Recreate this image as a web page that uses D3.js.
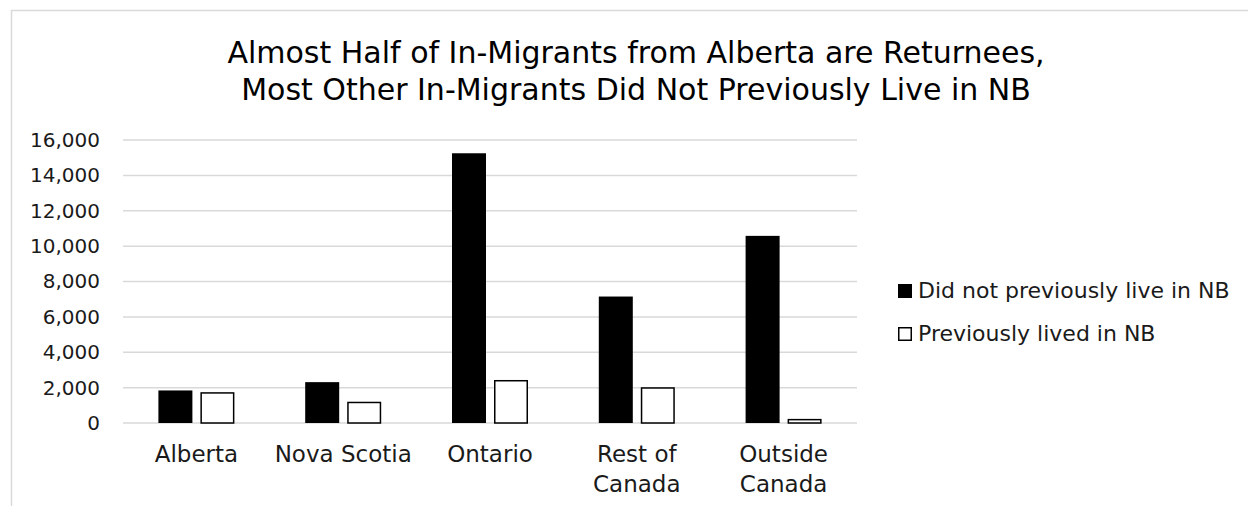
<!DOCTYPE html>
<html>
<head>
<meta charset="utf-8">
<script src="https://cdnjs.cloudflare.com/ajax/libs/d3/7.8.5/d3.min.js"></script>
<style>
body{margin:0;background:#fff;}
svg{display:block;font-family:"Century Gothic","DejaVu Sans",sans-serif;}
</style>
</head>
<body>
<div id="chart"></div>
<script>
// data
const categories = ['Alberta','Nova Scotia','Ontario','Rest of Canada','Outside Canada']
const seriesNames = ['Did not previously live in NB','Previously lived in NB']
const notLived = [1840, 2310, 15250, 7150, 10580]
const livedBefore = [1700, 1160, 2390, 1980, 190]
const yTicks = [0,2000,4000,6000,8000,10000,12000,14000,16000]
const titleLines = ['Almost Half of In-Migrants from Alberta are Returnees,','Most Other In-Migrants Did Not Previously Live in NB']

const width = 1248, height = 506
const margin = {left:123, right:391, top:140, bottom:83}

const svg = d3.select('#chart').append('svg')
	.attr('width',width)
	.attr('height',height)

// chart frame (light border, runs off right and bottom)
svg.append('rect')
	.attr('x',11.5).attr('y',10.5)
	.attr('width',width+20).attr('height',height+20)
	.attr('fill','#fff')
	.attr('stroke','#d9d9d9')
	.attr('stroke-width',1.5)

const x = d3.scaleBand()
	.domain(categories)
	.range([margin.left, width - margin.right])
const y = d3.scaleLinear()
	.domain([0,16000])
	.range([height - margin.bottom, margin.top])

// gridlines
svg.append('g')
	.selectAll('line').data(yTicks).enter().append('line')
	.attr('x1',margin.left).attr('x2',width - margin.right)
	.attr('y1',d => y(d)).attr('y2',d => y(d))
	.attr('stroke','#d9d9d9')
	.attr('stroke-width',1.5)

// y axis labels
const yAxis = svg.append('g')
	.attr('transform',`translate(${margin.left - 23},0)`)
	.call(d3.axisLeft(y).tickValues(yTicks).tickFormat(d3.format(',')).tickSize(0).tickPadding(0))
yAxis.select('.domain').remove()
yAxis.selectAll('text')
	.attr('font-family','"Century Gothic","DejaVu Sans",sans-serif')
	.attr('font-size',20)
	.attr('fill','#1a1a1a')

// bars
const barW = 34, gap = 8
const groups = svg.append('g')
	.selectAll('g').data(categories).enter().append('g')
	.attr('transform',d => `translate(${x(d) + x.bandwidth()/2},0)`)

groups.append('rect')
	.attr('x',-barW - gap/2)
	.attr('width',barW)
	.attr('y',(d,i) => y(notLived[i]))
	.attr('height',(d,i) => y(0) - y(notLived[i]))
	.attr('fill','#000')

groups.append('rect')
	.attr('x',gap/2 + 0.75)
	.attr('width',barW - 1.5)
	.attr('y',(d,i) => y(livedBefore[i]))
	.attr('height',(d,i) => y(0) - y(livedBefore[i]))
	.attr('fill','#fff')
	.attr('stroke','#000')
	.attr('stroke-width',1.5)

// category labels, wrapped like the original
const xLabels = {'Rest of Canada':['Rest of','Canada'],'Outside Canada':['Outside','Canada']}
groups.append('text')
	.attr('text-anchor','middle')
	.attr('font-size',23)
	.attr('fill','#1a1a1a')
	.selectAll('tspan').data(d => xLabels[d] || [d]).enter().append('tspan')
		.attr('x',0)
		.attr('y',(d,i) => 462 + i*30)
		.text(d => d)

// title
svg.append('text')
	.attr('text-anchor','middle')
	.attr('font-size',30)
	.attr('fill','#000')
	.selectAll('tspan').data(titleLines).enter().append('tspan')
		.attr('x',636)
		.attr('y',(d,i) => 63 + i*37)
		.text(d => d)

// legend
const legend = svg.append('g')
	.selectAll('g').data(seriesNames).enter().append('g')
	.attr('transform',(d,i) => `translate(898,${284 + i*43})`)
legend.append('rect')
	.attr('x',0.75).attr('y',0.75)
	.attr('width',12.5).attr('height',12.5)
	.attr('fill',(d,i) => i === 0 ? '#000' : '#fff')
	.attr('stroke','#000')
	.attr('stroke-width',1.5)
legend.append('text')
	.attr('x',20)
	.attr('y',14)
	.attr('font-size',22)
	.attr('fill','#1a1a1a')
	.text(d => d)
</script>
</body>
</html>
